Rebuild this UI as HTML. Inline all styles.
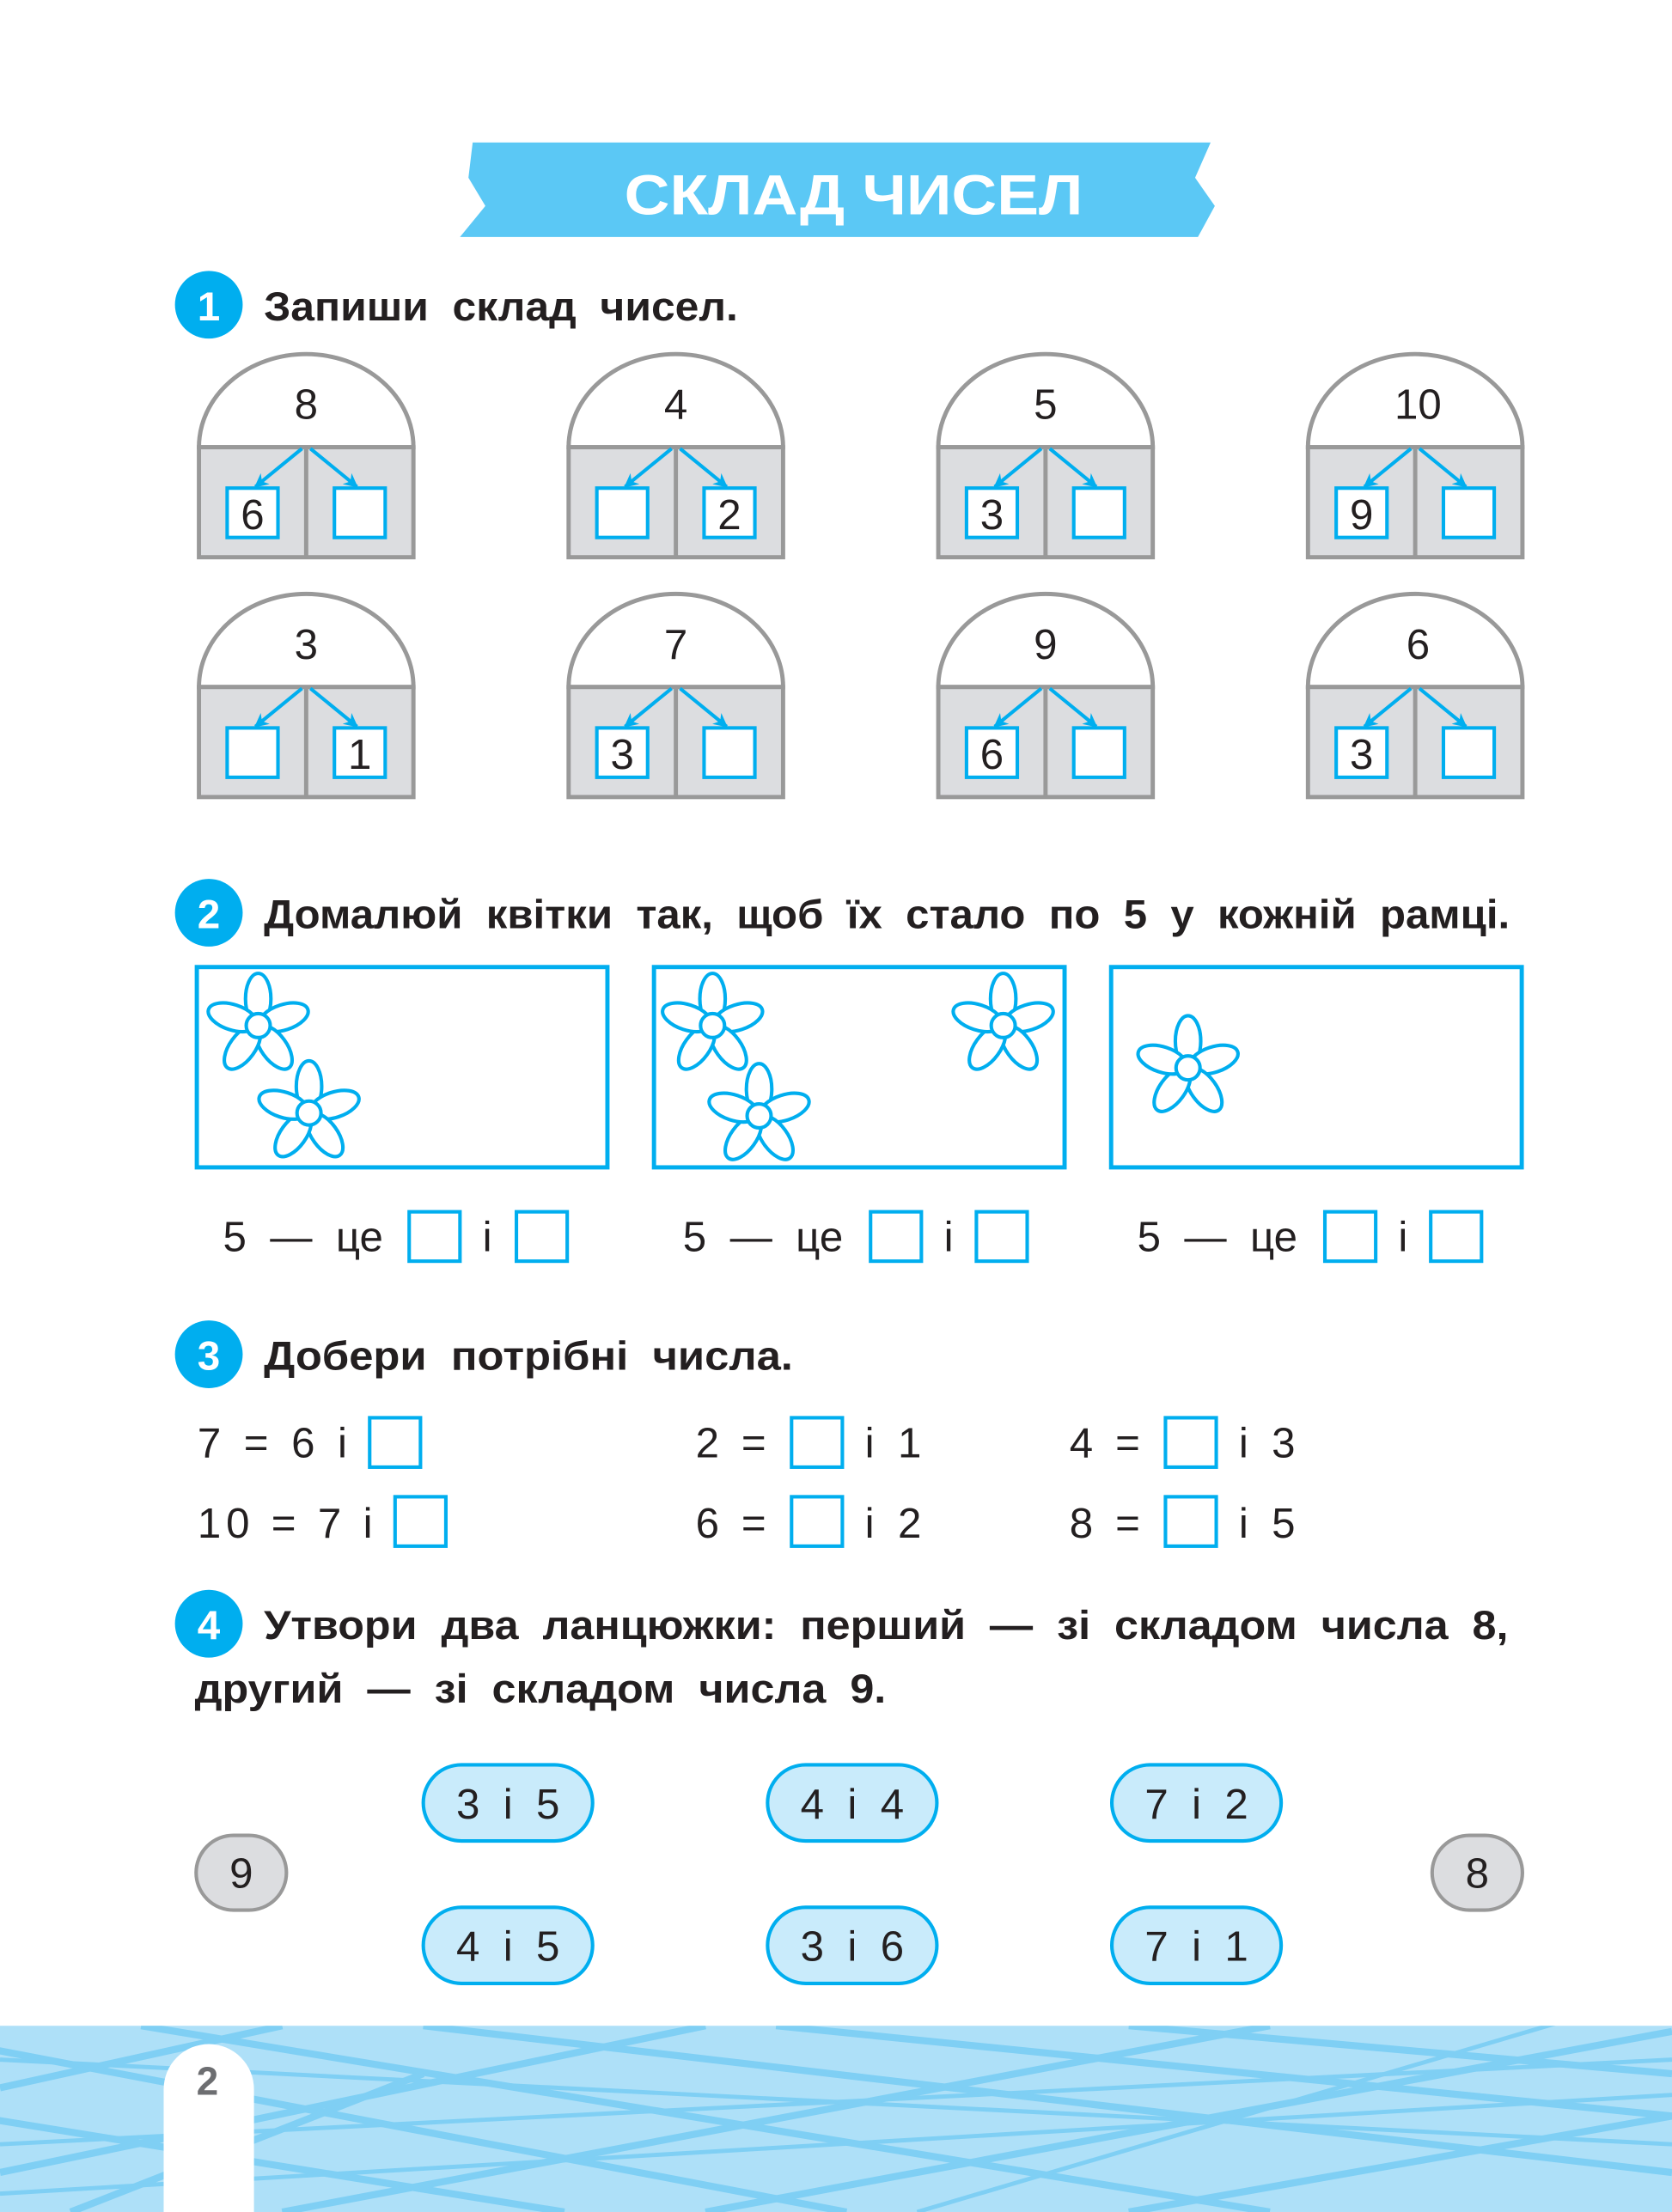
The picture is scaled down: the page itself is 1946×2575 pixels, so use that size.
<!DOCTYPE html>
<html><head><meta charset="utf-8"><style>
html,body{margin:0;padding:0;background:#fff}
svg{display:block}
text{font-family:"Liberation Sans",sans-serif;fill:#231f20;white-space:pre}
.n{font-size:30px}
.b{font-size:29px;font-weight:bold}
.eq{font-size:30px}
</style></head><body>
<svg width="1946" height="2575" viewBox="0 0 1185 1568" xmlns="http://www.w3.org/2000/svg" xml:space="preserve">
<defs>
<clipPath id="bc"><rect x="0" y="1436" width="1185" height="132"/></clipPath>
<marker id="ah" viewBox="0 0 10 10" refX="9" refY="5" markerWidth="4" markerHeight="4" orient="auto-start-reverse" markerUnits="strokeWidth"><path d="M0,0 L10,5 L0,10 L3,5 Z" fill="#00aeef"/></marker>
<g id="house">
<path d="M-76,0 A76,66 0 0 1 76,0 Z" fill="#fff" stroke="#999" stroke-width="3"/>
<rect x="-76" y="0" width="152" height="78" fill="#dcdde0" stroke="#999" stroke-width="3"/>
<line x1="0" y1="0" x2="0" y2="78" stroke="#999" stroke-width="3"/>
<rect x="-56" y="29" width="36" height="35" fill="#fff" stroke="#00aeef" stroke-width="2.5"/>
<rect x="20" y="29" width="36" height="35" fill="#fff" stroke="#00aeef" stroke-width="2.5"/>
<line x1="-3" y1="1" x2="-36" y2="28" stroke="#00aeef" stroke-width="2.5" marker-end="url(#ah)"/>
<line x1="3" y1="1" x2="36" y2="28" stroke="#00aeef" stroke-width="2.5" marker-end="url(#ah)"/>
</g>
<g id="fl" fill="#fff" stroke="#00aeef" stroke-width="2.5">
<ellipse cx="0" cy="-19" rx="9" ry="18"/>
<ellipse cx="0" cy="-19" rx="9" ry="18" transform="rotate(72)"/>
<ellipse cx="0" cy="-19" rx="9" ry="18" transform="rotate(144)"/>
<ellipse cx="0" cy="-19" rx="9" ry="18" transform="rotate(216)"/>
<ellipse cx="0" cy="-19" rx="9" ry="18" transform="rotate(288)"/>
<circle cx="0" cy="0" r="8.5"/>
</g>
<g id="sq"><rect x="0" y="0" width="36" height="35" fill="#fff" stroke="#00aeef" stroke-width="2.5"/></g>
<g id="pill"><rect x="0" y="0" width="120" height="54" rx="27" fill="#c9ebfb" stroke="#00aeef" stroke-width="2.5"/></g>
</defs>

<polygon points="335,101 858,101 847,126 861,146 849,168 326,168 344,146 332,126" fill="#5bc8f5"/>
<text x="605" y="152" text-anchor="middle" style="font-size:40px;font-weight:900;fill:#fff" textLength="325" lengthAdjust="spacingAndGlyphs">СКЛАД ЧИСЕЛ</text>

<circle cx="148" cy="216" r="24" fill="#00aeef"/>
<text x="148" y="227" text-anchor="middle" style="font-size:29px;font-weight:bold;fill:#fff">1</text>
<text x="187" y="227" class="b" textLength="336" lengthAdjust="spacingAndGlyphs">Запиши  склад  чисел.</text>

<use href="#house" x="217" y="317"/><use href="#house" x="479" y="317"/><use href="#house" x="741" y="317"/><use href="#house" x="1003" y="317"/>
<use href="#house" x="217" y="487"/><use href="#house" x="479" y="487"/><use href="#house" x="741" y="487"/><use href="#house" x="1003" y="487"/>
<text x="217" y="297" class="n" text-anchor="middle">8</text>
<text x="479" y="297" class="n" text-anchor="middle">4</text>
<text x="741" y="297" class="n" text-anchor="middle">5</text>
<text x="1005" y="297" class="n" text-anchor="middle">10</text>
<text x="179" y="375" class="n" text-anchor="middle">6</text>
<text x="517" y="375" class="n" text-anchor="middle">2</text>
<text x="703" y="375" class="n" text-anchor="middle">3</text>
<text x="965" y="375" class="n" text-anchor="middle">9</text>
<text x="217" y="467" class="n" text-anchor="middle">3</text>
<text x="479" y="467" class="n" text-anchor="middle">7</text>
<text x="741" y="467" class="n" text-anchor="middle">9</text>
<text x="1005" y="467" class="n" text-anchor="middle">6</text>
<text x="255" y="545" class="n" text-anchor="middle">1</text>
<text x="441" y="545" class="n" text-anchor="middle">3</text>
<text x="703" y="545" class="n" text-anchor="middle">6</text>
<text x="965" y="545" class="n" text-anchor="middle">3</text>

<circle cx="148" cy="647" r="24" fill="#00aeef"/>
<text x="148" y="658" text-anchor="middle" style="font-size:29px;font-weight:bold;fill:#fff">2</text>
<text x="187" y="658" class="b" textLength="883" lengthAdjust="spacingAndGlyphs">Домалюй  квітки  так,  щоб  їх  стало  по  5  у  кожній  рамці.</text>
<rect x="139.5" y="685.5" width="291" height="142" fill="none" stroke="#00aeef" stroke-width="3"/>
<rect x="463.5" y="685.5" width="291" height="142" fill="none" stroke="#00aeef" stroke-width="3"/>
<rect x="787.5" y="685.5" width="291" height="142" fill="none" stroke="#00aeef" stroke-width="3"/>
<use href="#fl" x="183" y="727"/><use href="#fl" x="219" y="789"/>
<use href="#fl" x="505" y="727"/><use href="#fl" x="538" y="791"/><use href="#fl" x="711" y="727"/>
<use href="#fl" x="842" y="757"/>

<text x="158" y="887" class="eq">5  —  це</text>
<use href="#sq" x="290" y="859"/><text x="342" y="887" class="eq">і</text><use href="#sq" x="366" y="859"/>
<text x="484" y="887" class="eq">5  —  це</text>
<use href="#sq" x="617" y="859"/><text x="669" y="887" class="eq">і</text><use href="#sq" x="692" y="859"/>
<text x="806" y="887" class="eq">5  —  це</text>
<use href="#sq" x="939" y="859"/><text x="991" y="887" class="eq">і</text><use href="#sq" x="1014" y="859"/>

<circle cx="148" cy="960" r="24" fill="#00aeef"/>
<text x="148" y="971" text-anchor="middle" style="font-size:29px;font-weight:bold;fill:#fff">3</text>
<text x="187" y="971" class="b" textLength="375" lengthAdjust="spacingAndGlyphs">Добери  потрібні  числа.</text>

<text x="140" y="1033" class="eq" textLength="106" lengthAdjust="spacing">7 = 6 і</text><use href="#sq" x="262" y="1005"/>
<text x="493" y="1033" class="eq" textLength="50" lengthAdjust="spacing">2 =</text><use href="#sq" x="561" y="1005"/><text x="613" y="1033" class="eq" textLength="40" lengthAdjust="spacing">і 1</text>
<text x="758" y="1033" class="eq" textLength="50" lengthAdjust="spacing">4 =</text><use href="#sq" x="826" y="1005"/><text x="878" y="1033" class="eq" textLength="40" lengthAdjust="spacing">і 3</text>
<text x="140" y="1090" class="eq" textLength="124" lengthAdjust="spacing">10 = 7 і</text><use href="#sq" x="280" y="1061"/>
<text x="493" y="1090" class="eq" textLength="50" lengthAdjust="spacing">6 =</text><use href="#sq" x="561" y="1061"/><text x="613" y="1090" class="eq" textLength="40" lengthAdjust="spacing">і 2</text>
<text x="758" y="1090" class="eq" textLength="50" lengthAdjust="spacing">8 =</text><use href="#sq" x="826" y="1061"/><text x="878" y="1090" class="eq" textLength="40" lengthAdjust="spacing">і 5</text>

<circle cx="148" cy="1151" r="24" fill="#00aeef"/>
<text x="148" y="1162" text-anchor="middle" style="font-size:29px;font-weight:bold;fill:#fff">4</text>
<text x="187" y="1162" class="b" textLength="882" lengthAdjust="spacingAndGlyphs">Утвори  два  ланцюжки:  перший  —  зі  складом  числа  8,</text>
<text x="138" y="1207" class="b" textLength="490" lengthAdjust="spacingAndGlyphs">другий  —  зі  складом  числа  9.</text>

<use href="#pill" x="300" y="1251"/><use href="#pill" x="544" y="1251"/><use href="#pill" x="788" y="1251"/>
<use href="#pill" x="300" y="1352"/><use href="#pill" x="544" y="1352"/><use href="#pill" x="788" y="1352"/>
<text x="360" y="1289" class="eq" text-anchor="middle">3  і  5</text>
<text x="604" y="1289" class="eq" text-anchor="middle">4  і  4</text>
<text x="848" y="1289" class="eq" text-anchor="middle">7  і  2</text>
<text x="360" y="1390" class="eq" text-anchor="middle">4  і  5</text>
<text x="604" y="1390" class="eq" text-anchor="middle">3  і  6</text>
<text x="848" y="1390" class="eq" text-anchor="middle">7  і  1</text>
<rect x="139" y="1301" width="64" height="53" rx="26.5" fill="#dcdde0" stroke="#999" stroke-width="2.5"/>
<rect x="1015" y="1301" width="64" height="53" rx="26.5" fill="#dcdde0" stroke="#999" stroke-width="2.5"/>
<text x="171" y="1338" class="eq" text-anchor="middle">9</text>
<text x="1047" y="1338" class="eq" text-anchor="middle">8</text>

<rect x="0" y="1436" width="1185" height="132" fill="#aee0f8"/>
<g stroke="#7fcff4" stroke-width="5" fill="none" clip-path="url(#bc)">
<path d="M-20,1450 L600,1568"/><path d="M100,1436 L900,1568"/><path d="M300,1436 L1185,1540"/>
<path d="M550,1436 L1185,1500"/><path d="M-20,1500 L400,1568"/><path d="M800,1436 L1185,1470"/>
<path d="M0,1540 L500,1436"/><path d="M200,1568 L900,1436"/><path d="M500,1568 L1185,1440"/>
<path d="M800,1568 L1185,1500"/><path d="M0,1480 L200,1436"/><path d="M50,1568 L300,1470"/>
<path d="M0,1460 L1185,1520" stroke-width="3"/><path d="M0,1520 L1185,1460" stroke-width="3"/>
<path d="M650,1568 L1185,1410" stroke-width="3"/><path d="M0,1555 L1185,1485" stroke-width="3"/>
</g>
<path d="M116,1568 L116,1481 A32,32 0 0 1 180,1481 L180,1568 Z" fill="#fff"/>
<text x="147" y="1485" text-anchor="middle" style="font-size:28px;font-weight:bold;fill:#6d6e71">2</text>
</svg>
</body></html>
